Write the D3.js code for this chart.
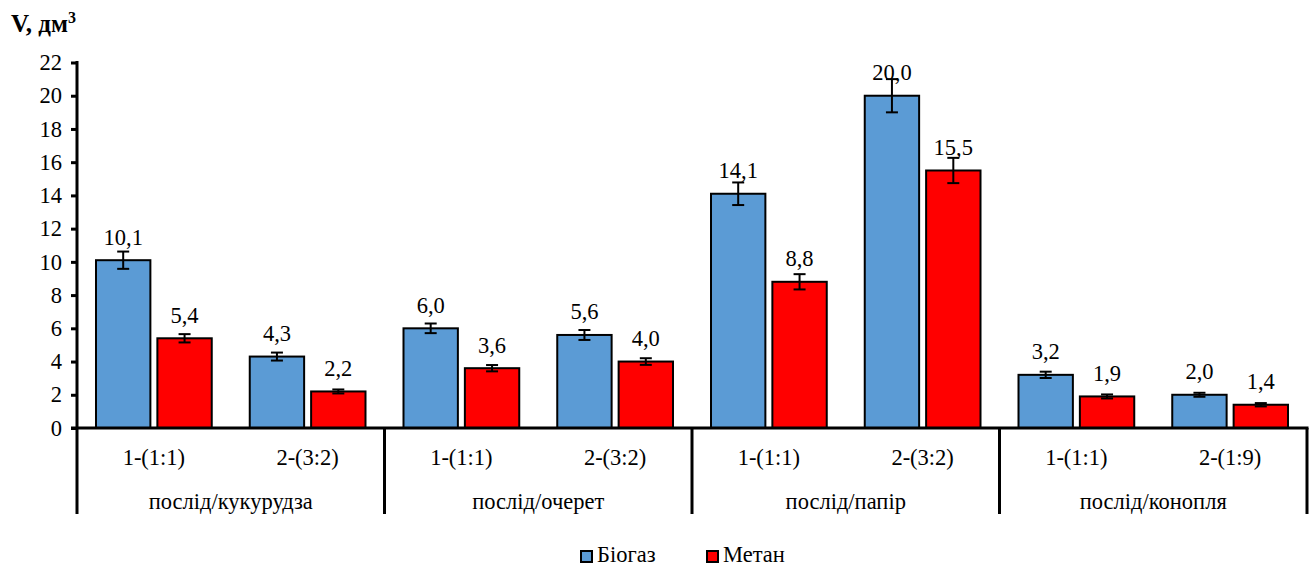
<!DOCTYPE html>
<html>
<head>
<meta charset="utf-8">
<script src="https://cdn.jsdelivr.net/npm/d3@7"></script>
<style>
  html, body { margin: 0; padding: 0; background: #fff; }
  svg { display: block; }
</style>
</head>
<body>
<svg id="chart" width="1312" height="568"></svg>
<script>
// Mixtures (groups) and their ratio variants
const groups = ["послід/кукурудза", "послід/очерет", "послід/папір", "послід/конопля"];
const variants = ["1-(1:1)", "2-(3:2)", "1-(1:1)", "2-(3:2)", "1-(1:1)", "2-(3:2)", "1-(1:1)", "2-(1:9)"];
const seriesNames = ["Біогаз", "Метан"];
const seriesColors = ["#5B9BD5", "#FF0000"];

// Gas volumes, dm³, and their error margins
const biogas    = [10.1, 4.3, 6.0, 5.6, 14.1, 20.0, 3.2, 2.0];
const biogasErr = [0.52, 0.24, 0.29, 0.30, 0.68, 1.00, 0.19, 0.12];
const methane    = [5.4, 2.2, 3.6, 4.0, 8.8, 15.5, 1.9, 1.4];
const methaneErr = [0.25, 0.12, 0.19, 0.20, 0.46, 0.76, 0.12, 0.10];

const yTicks = [0, 2, 4, 6, 8, 10, 12, 14, 16, 18, 20, 22];

const FONT = "'Liberation Serif', 'Times New Roman', serif";
const FS = "22.5px";

const svg = d3.select("#chart");
const plotLeft = 77, plotRight = 1307, plotTop = 62.5, plotBottom = 428;

const x0 = d3.scaleBand().domain(d3.range(variants.length)).range([plotLeft, plotRight]);
const bw = x0.bandwidth();
const x1 = d3.scaleBand().domain(seriesNames).range([19, bw - 19]).paddingInner(0.114);
const y = d3.scaleLinear().domain([0, 22]).range([plotBottom, plotTop]);

const rows = [];
variants.forEach((v, i) => {
  rows.push({ i, s: seriesNames[0], v: biogas[i], e: biogasErr[i], c: seriesColors[0] });
  rows.push({ i, s: seriesNames[1], v: methane[i], e: methaneErr[i], c: seriesColors[1] });
});

// Y axis
const yAxis = d3.axisLeft(y).tickValues(yTicks).tickSize(6).tickPadding(9).tickFormat(d3.format("d"));
const ga = svg.append("g").attr("transform", `translate(${plotLeft},0)`).call(yAxis);
ga.select(".domain").remove();
ga.selectAll(".tick line").attr("stroke", "#000").attr("stroke-width", 3);
ga.selectAll(".tick text").attr("fill", "#000")
  .style("font-family", FONT).style("font-size", FS);

// Bars
const bars = svg.append("g");
bars.selectAll("rect").data(rows).enter().append("rect")
  .attr("x", d => x0(d.i) + x1(d.s))
  .attr("y", d => y(d.v))
  .attr("width", x1.bandwidth())
  .attr("height", d => y(0) - y(d.v))
  .attr("fill", d => d.c)
  .attr("stroke", "#000")
  .attr("stroke-width", 2);

// Error bars
const eb = svg.append("g").attr("stroke", "#000").attr("stroke-width", 2);
rows.forEach(d => {
  const cx = x0(d.i) + x1(d.s) + x1.bandwidth() / 2;
  eb.append("line").attr("x1", cx).attr("x2", cx).attr("y1", y(d.v + d.e)).attr("y2", y(d.v - d.e));
  eb.append("line").attr("x1", cx - 6).attr("x2", cx + 6).attr("y1", y(d.v + d.e)).attr("y2", y(d.v + d.e));
  eb.append("line").attr("x1", cx - 6).attr("x2", cx + 6).attr("y1", y(d.v - d.e)).attr("y2", y(d.v - d.e));
});

// Value labels
const fmt = v => v.toFixed(1).replace(".", ",");
svg.append("g").selectAll("text").data(rows).enter().append("text")
  .attr("x", d => x0(d.i) + x1(d.s) + x1.bandwidth() / 2)
  .attr("y", d => y(d.v) - 15.5)
  .attr("text-anchor", "middle")
  .style("font-family", FONT).style("font-size", FS)
  .text(d => fmt(d.v));

// Axis lines: vertical axis extended down, baseline, group dividers
const axisG = svg.append("g").attr("stroke", "#000").attr("stroke-width", 3);
axisG.append("line").attr("x1", plotLeft).attr("x2", plotLeft).attr("y1", y(22) - 1.5).attr("y2", 514);
axisG.append("line").attr("x1", plotLeft - 6).attr("x2", plotRight + 1.5).attr("y1", y(0)).attr("y2", y(0));
groups.forEach((g, gi) => {
  const xe = x0(gi * 2 + 1) + bw;
  axisG.append("line").attr("x1", xe).attr("x2", xe).attr("y1", y(0)).attr("y2", 514);
});

// Category labels
svg.append("g").selectAll("text").data(variants).enter().append("text")
  .attr("x", (d, i) => x0(i) + bw / 2)
  .attr("y", 465)
  .attr("text-anchor", "middle")
  .style("font-family", FONT).style("font-size", FS)
  .text(d => d);

svg.append("g").selectAll("text").data(groups).enter().append("text")
  .attr("x", (d, gi) => x0(gi * 2) + bw)
  .attr("y", 509)
  .attr("text-anchor", "middle")
  .style("font-family", FONT).style("font-size", FS)
  .text(d => d);

// Axis title
const title = svg.append("text").attr("x", 11).attr("y", 32)
  .style("font-family", FONT).style("font-size", "25px").style("font-weight", "bold");
title.append("tspan").text("V, дм");
title.append("tspan").attr("dy", -9).style("font-size", "16px").text("3");

// Legend
const legendX = [581, 707];
const leg = svg.append("g");
seriesNames.forEach((s, i) => {
  leg.append("rect").attr("x", legendX[i]).attr("y", 551).attr("width", 11).attr("height", 11)
    .attr("fill", seriesColors[i]).attr("stroke", "#000").attr("stroke-width", 2);
  leg.append("text").attr("x", legendX[i] + 16).attr("y", 562)
    .style("font-family", FONT).style("font-size", FS)
    .text(s);
});
</script>
</body>
</html>
